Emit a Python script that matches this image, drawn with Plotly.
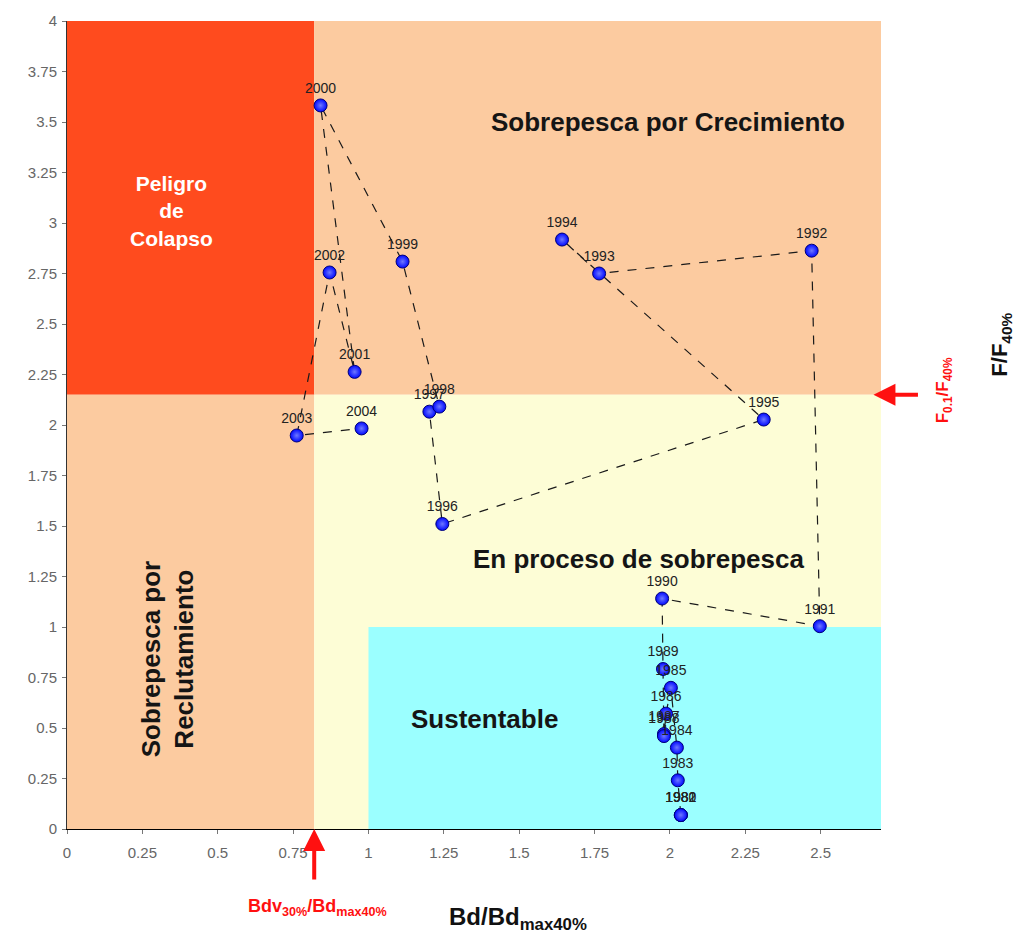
import plotly.graph_objects as go

# ---- data ----
years = [1980, 1981, 1982, 1983, 1984, 1985, 1986, 1987, 1988, 1989,
         1990, 1991, 1992, 1993, 1994, 1995, 1996, 1997, 1998, 1999,
         2000, 2001, 2002, 2003, 2004]
bd_ratio = [2.036, 2.036, 2.036, 2.026, 2.023, 2.003, 1.987, 1.980, 1.980, 1.977,
            1.974, 2.497, 2.470, 1.765, 1.642, 2.311, 1.245, 1.202, 1.235, 1.113,
            0.841, 0.954, 0.871, 0.762, 0.977]
f_ratio = [0.069, 0.069, 0.069, 0.241, 0.403, 0.699, 0.571, 0.470, 0.460, 0.792,
           1.141, 1.004, 2.863, 2.750, 2.918, 2.027, 1.510, 2.066, 2.091, 2.809,
           3.582, 2.263, 2.755, 1.948, 1.983]

# reference points
bdv_ref = 0.82      # Bdv30%/Bdmax40%
f01_ref = 2.15      # F0.1/F40%
x_max = 2.7
y_max = 4.0

x_ticks = [0, 0.25, 0.5, 0.75, 1, 1.25, 1.5, 1.75, 2, 2.25, 2.5]
x_tick_text = ["0", "0.25", "0.5", "0.75", "1", "1.25", "1.5", "1.75", "2", "2.25", "2.5"]
y_ticks = [0, 0.25, 0.5, 0.75, 1, 1.25, 1.5, 1.75, 2, 2.25, 2.5, 2.75, 3, 3.25, 3.5, 3.75, 4]
y_tick_text = ["0", "0.25", "0.5", "0.75", "1", "1.25", "1.5", "1.75", "2", "2.25",
               "2.5", "2.75", "3", "3.25", "3.5", "3.75", "4"]

RED = "#FF4B1E"
PEACH = "#FCCBA0"
YELLOW = "#FDFDD6"
CYAN = "#9BFFFF"
FONT = "Arial, Liberation Sans, sans-serif"

fig = go.Figure()

# trajectory line + markers + labels
fig.add_trace(go.Scatter(
    x=bd_ratio, y=f_ratio, mode="lines",
    line=dict(color="#1a1a1a", width=1.2, dash="dash"),
    hoverinfo="skip", showlegend=False))
fig.add_trace(go.Scatter(
    x=bd_ratio, y=f_ratio, mode="markers+text",
    text=[str(y) for y in years], textposition="top center",
    textfont=dict(family=FONT, size=14, color="#222222"),
    marker=dict(size=13, color="#0008FF", line=dict(color="#00007A", width=1),
                gradient=dict(type="radial", color="#6E78FF")),
    showlegend=False))

shapes = [
    dict(type="rect", xref="x", yref="y", x0=0, x1=bdv_ref, y0=f01_ref, y1=y_max,
         fillcolor=RED, line=dict(width=0), layer="below"),
    dict(type="rect", xref="x", yref="y", x0=bdv_ref, x1=x_max, y0=f01_ref, y1=y_max,
         fillcolor=PEACH, line=dict(width=0), layer="below"),
    dict(type="rect", xref="x", yref="y", x0=0, x1=bdv_ref, y0=0, y1=f01_ref,
         fillcolor=PEACH, line=dict(width=0), layer="below"),
    dict(type="rect", xref="x", yref="y", x0=bdv_ref, x1=x_max, y0=0, y1=f01_ref,
         fillcolor=YELLOW, line=dict(width=0), layer="below"),
    dict(type="rect", xref="x", yref="y", x0=1, x1=x_max, y0=0, y1=1,
         fillcolor=CYAN, line=dict(width=0), layer="below"),
]

annotations = [
    dict(x=1.995, y=3.50, xref="x", yref="y", text="<b>Sobrepesca por Crecimiento</b>",
         showarrow=False, font=dict(family=FONT, size=26, color="#151515")),
    dict(x=0.348, y=3.06, xref="x", yref="y", text="<b>Peligro<br>de<br>Colapso</b>",
         showarrow=False, font=dict(family=FONT, size=21, color="white")),
    dict(x=1.897, y=1.338, xref="x", yref="y", text="<b>En proceso de sobrepesca</b>",
         showarrow=False, font=dict(family=FONT, size=26, color="#151515")),
    dict(x=1.384, y=0.546, xref="x", yref="y", text="<b>Sustentable</b>",
         showarrow=False, font=dict(family=FONT, size=26, color="#151515")),
    dict(x=0.335, y=0.84, xref="x", yref="y", text="<b>Sobrepesca por<br>Reclutamiento</b>",
         showarrow=False, textangle=-90, font=dict(family=FONT, size=26, color="#151515")),
    # bottom red arrow
    dict(x=bdv_ref, y=0, xref="x", yref="y", text="", showarrow=True,
         ax=0, ay=52, axref="pixel", ayref="pixel",
         arrowhead=2, arrowsize=1.1, arrowwidth=4, arrowcolor="#FF1010"),
    dict(x=0.831, y=-0.097, xref="x", yref="paper", xanchor="center", yanchor="middle",
         text="<b>Bdv<sub>30%</sub>/Bd<sub>max40%</sub></b>",
         showarrow=False, font=dict(family=FONT, size=18, color="#FF1010")),
    dict(x=1.495, y=-0.111, xref="x", yref="paper", xanchor="center", yanchor="middle",
         text="<b>Bd/Bd<sub>max40%</sub></b>",
         showarrow=False, font=dict(family=FONT, size=24, color="#111111")),
    # right red arrow
    dict(x=2.675, y=f01_ref, xref="x", yref="y", text="", showarrow=True,
         ax=46, ay=0, axref="pixel", ayref="pixel",
         arrowhead=2, arrowsize=1.1, arrowwidth=4, arrowcolor="#FF1010"),
    dict(x=1.077, y=2.17, xref="paper", yref="y", xanchor="center", yanchor="middle",
         text="<b>F<sub>0.1</sub>/F<sub>40%</sub></b>", textangle=-90,
         showarrow=False, font=dict(family=FONT, size=17, color="#FF1010")),
    dict(x=1.148, y=2.40, xref="paper", yref="y", xanchor="center", yanchor="middle",
         text="<b>F/F<sub>40%</sub></b>", textangle=-90,
         showarrow=False, font=dict(family=FONT, size=22, color="#111111")),
]

fig.update_layout(
    width=1017, height=937,
    margin=dict(l=67, r=136, t=16, b=108),
    plot_bgcolor="white", paper_bgcolor="white",
    shapes=shapes, annotations=annotations,
    showlegend=False,
    font=dict(family=FONT),
)
fig.update_xaxes(range=[0, x_max], tickvals=x_ticks, ticktext=x_tick_text,
                 showgrid=False, zeroline=False, showline=True, linecolor="black",
                 linewidth=1, ticks="outside", ticklen=4, tickcolor="#777",
                 ticklabelstandoff=6,
                 tickfont=dict(family=FONT, size=15, color="#666666"))
fig.update_yaxes(range=[0, y_max], tickvals=y_ticks, ticktext=y_tick_text,
                 showgrid=False, zeroline=False, showline=True, linecolor="#333",
                 linewidth=1, ticks="outside", ticklen=4, tickcolor="#777",
                 ticklabelstandoff=2,
                 tickfont=dict(family=FONT, size=15, color="#666666"))

fig.write_html("out.html")
